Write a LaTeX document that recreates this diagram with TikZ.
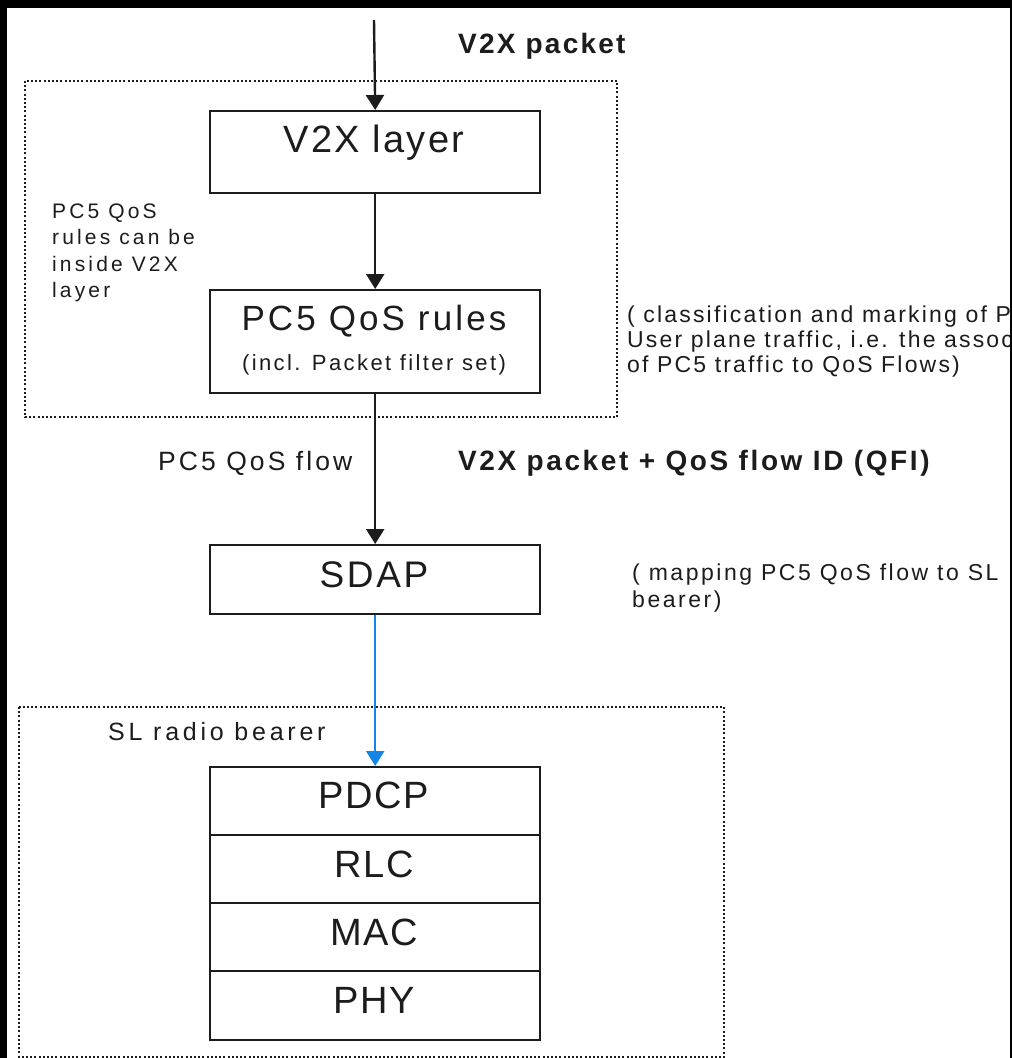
\documentclass[tikz,border=0pt]{standalone}
\usepackage{fontspec}
\setmainfont{Liberation Sans}
\usetikzlibrary{arrows.meta}
\definecolor{ink}{HTML}{1C1C1C}
\definecolor{flowblue}{HTML}{1585E8}
% font size, line height, letter spacing
\newcommand\txt[3]{\addfontfeatures{LetterSpace=#3}\fontsize{#1}{#2}\selectfont}

\begin{document}
\begin{tikzpicture}[x=1pt,y=-1pt,
  layerbox/.style={draw=ink, line width=2.4pt, fill=white, minimum width=330pt, anchor=north west, inner sep=0pt},
  lefttext/.style={inner sep=0pt, anchor=base west, text=ink},
  midtext/.style={inner sep=0pt, anchor=base, text=ink},
  flow/.style={draw=ink, line width=2.4pt, -{Triangle[width=18pt,length=15pt]}},
  radio/.style={draw=flowblue, line width=2.4pt, -{Triangle[width=18pt,length=15pt]}},
  group/.style={draw=ink, line width=2pt, dash pattern=on 2pt off 2.2pt},
]
\useasboundingbox (0,0) rectangle (1012,1058);
\fill[white] (0,0) rectangle (1012,1058);

% dotted groupings
\draw[group] (25,81) rectangle (617,417);
\draw[group] (19,707) rectangle (724,1057);

% protocol boxes
\node[layerbox, minimum height=82pt] (v2x) at (209,110) {};
\node[layerbox, minimum height=103pt] (rules) at (209,289) {};
\node[layerbox, minimum height=69pt] (sdap) at (209,544) {};
\node[layerbox, minimum height=68pt] (pdcp) at (209,766) {};
\node[layerbox, minimum height=68pt] (rlc) at (209,834) {};
\node[layerbox, minimum height=68pt] (mac) at (209,902) {};
\node[layerbox, minimum height=69pt] (phy) at (209,970) {};

% box captions
\node[midtext] (v2xT) at (374,152) {\txt{38}{40}{6}V2X layer};
\node[midtext] (rulesT) at (374,330) {\txt{35}{38}{9}PC5 QoS rules};
\node[midtext] (rulesS) at (374,370) {\txt{22}{24}{11}(incl. Packet filter set)};
\node[midtext] (sdapT) at (374,587) {\txt{37}{40}{7}SDAP};
\node[midtext] (pdcpT) at (374,808) {\txt{38}{40}{4}PDCP};
\node[midtext] (rlcT) at (374,877) {\txt{38}{40}{4}RLC};
\node[midtext] (macT) at (374,945) {\txt{38}{40}{4}MAC};
\node[midtext] (phyT) at (374,1013) {\txt{38}{40}{4}PHY};

% connectors
\coordinate (src) at (374,20);
\draw[flow] (src) -- (v2x.north);
\draw[flow] (v2x.south) -- (rules.north);
\draw[flow] (rules.south) -- (sdap.north);
\draw[radio] (sdap.south) -- (pdcp.north);

% annotations
\node[lefttext] (pkt) at (458,53) {\txt{28}{30}{8}\bfseries V2X packet};
\node[lefttext] (pktqfi) at (458,470) {\txt{28}{30}{9.3}\bfseries V2X packet + QoS flow ID (QFI)};
\node[lefttext] (flowlbl) at (158,470) {\txt{26.5}{28}{11.6}PC5 QoS flow};
\node[lefttext] (slrb) at (108,740) {\txt{25}{28}{15}SL radio bearer};

\node[lefttext] (note1) at (52,218) {\txt{21}{26.5}{15}PC5 QoS};
\node[lefttext] (note2) at (52,244.5) {\txt{21}{26.5}{15}rules can be};
\node[lefttext] (note3) at (52,271) {\txt{21}{26.5}{15}inside V2X};
\node[lefttext] (note4) at (52,297.5) {\txt{21}{26.5}{15}layer};

\node[lefttext] (cls1) at (627,322) {\txt{23}{25}{9.5}( classification and marking of PC5};
\node[lefttext] (cls2) at (627,347) {\txt{23}{25}{9.5}User plane traffic, i.e. the association};
\node[lefttext] (cls3) at (627,372) {\txt{23}{25}{9.5}of PC5 traffic to QoS Flows)};

\node[lefttext] (map1) at (632,580) {\txt{23}{25}{11}( mapping PC5 QoS flow to SL};
\node[lefttext] (map2) at (632,607) {\txt{23}{25}{11}bearer)};

% black frame edges
\fill[black] (0,0) rectangle (1012,8);
\fill[black] (0,0) rectangle (7,1058);
\fill[black] (1010,0) rectangle (1012,1058);
\end{tikzpicture}
\end{document}
